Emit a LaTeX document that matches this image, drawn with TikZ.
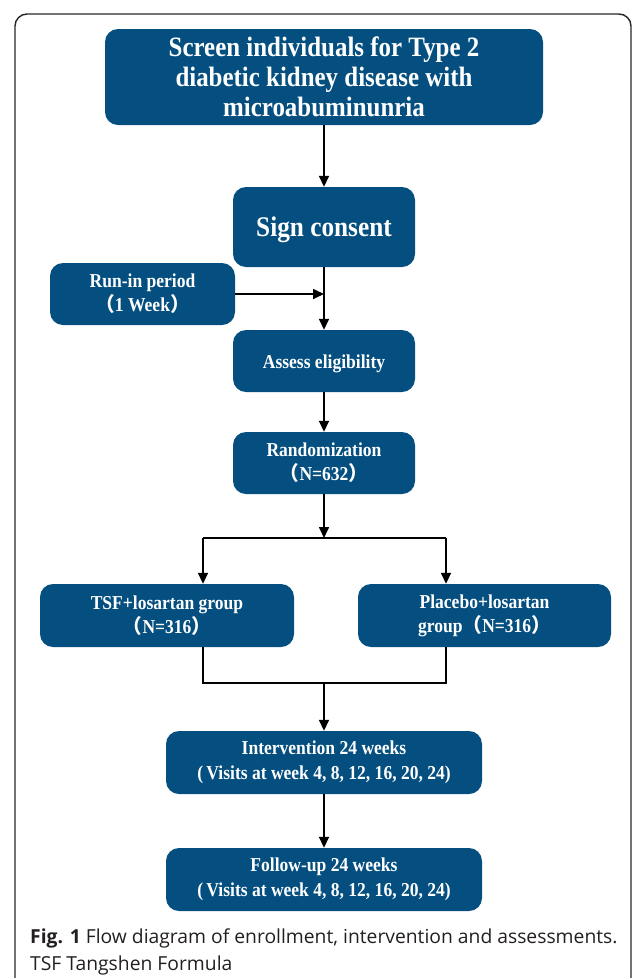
\documentclass[tikz,border=0pt]{standalone}
\usepackage{fontspec}
\setmainfont{Liberation Serif}
\newfontfamily\boxfont{Liberation Serif}[FakeStretch=0.89]
\newfontfamily\cjkfnt{Noto Sans CJK SC}
\newfontfamily\capfont{Open Sans}
\usetikzlibrary{arrows.meta}
\definecolor{boxblue}{HTML}{044F7F}
\definecolor{captext}{HTML}{231F20}
\newcommand{\lpar}{{\cjkfnt （}}
\newcommand{\rpar}{{\cjkfnt ）}}
\newcommand{\lowered}[1]{\raisebox{-2.5pt}[\height][\depth]{#1}}
\tikzset{
  flowbox/.style={fill=boxblue, draw=none, rounded corners=13pt, text=white,
    align=center, font=\boxfont\bfseries\fontsize{19.7}{24}\selectfont, inner sep=0pt},
  conn/.style={line width=1.6pt, black},
  arr/.style={conn, -{Triangle[length=11pt,width=10pt]}},
}
\begin{document}
\begin{tikzpicture}[x=1pt,y=-1pt]
\useasboundingbox (0,0) rectangle (633,978);
\begin{scope}
\clip (0,0) rectangle (633,978);
\draw[line width=1.4pt, black!85, rounded corners=12pt] (15,1010) -- (15,14) -- (631,14) -- (631,1010);
\end{scope}

\node[flowbox, minimum width=438pt, minimum height=96pt, font=\boxfont\bfseries\fontsize{28}{30}\selectfont] (screen) at (324,77)
  {Screen individuals for Type 2\\diabetic kidney disease with\\microabuminunria};
\node[flowbox, minimum width=182pt, minimum height=80pt, font=\boxfont\bfseries\fontsize{28.4}{30}\selectfont] (sign) at (324,227) {\lowered{Sign consent}};
\node[flowbox, minimum width=185pt, minimum height=62pt] (runin) at (142.5,294) {Run-in period\\\lpar 1 Week\rpar};
\node[flowbox, minimum width=182pt, minimum height=62pt] (assess) at (324,361) {\lowered{Assess eligibility}};
\node[flowbox, minimum width=182pt, minimum height=62pt] (rand) at (324,463) {Randomization\\\lpar N=632\rpar};
\node[flowbox, minimum width=254pt, minimum height=63pt] (tsf) at (167,615.5) {TSF+losartan group\\\lpar N=316\rpar};
\node[flowbox, minimum width=253pt, minimum height=63pt] (plac) at (484.5,615.5) {Placebo+losartan\\group\lpar N=316\rpar};
\node[flowbox, minimum width=316pt, minimum height=63pt, font=\boxfont\bfseries\fontsize{19.7}{25}\selectfont] (inter) at (324,762.5) {Intervention 24 weeks\\(\,Visits at week 4, 8, 12, 16, 20, 24)};
\node[flowbox, minimum width=316pt, minimum height=63pt, font=\boxfont\bfseries\fontsize{19.7}{25}\selectfont] (follow) at (324,879.5) {Follow-up 24 weeks\\(\,Visits at week 4, 8, 12, 16, 20, 24)};

\draw[arr] (screen) -- (sign);
\draw[arr] (sign) -- (assess);
\draw[arr] (runin.east) -- (runin.east -| sign.south);
\draw[arr] (assess) -- (rand);
\coordinate (split) at (324,538);
\coordinate (lt) at (203,538);
\coordinate (rt) at (446,538);
\coordinate (lb) at (203,683);
\coordinate (rb) at (446,683);
\coordinate (merge) at (324,683);
\draw[arr] (rand.south) -- (split);
\draw[conn] (lt) -- (rt);
\draw[arr] (lt) -- (lt |- tsf.north);
\draw[arr] (rt) -- (rt |- plac.north);
\draw[conn] (lt |- tsf.south) -- (lb) -- (rb) -- (rt |- plac.south);
\draw[arr] (merge) -- (inter.north);
\draw[arr] (inter) -- (follow);

\node[anchor=west, align=left, inner sep=0pt, text=captext, font=\capfont\fontsize{19.3}{27}\selectfont] (cap) at (30,951.5)
  {\textbf{Fig. 1} Flow diagram of enrollment, intervention and assessments.\\TSF Tangshen Formula};
\end{tikzpicture}
\end{document}
